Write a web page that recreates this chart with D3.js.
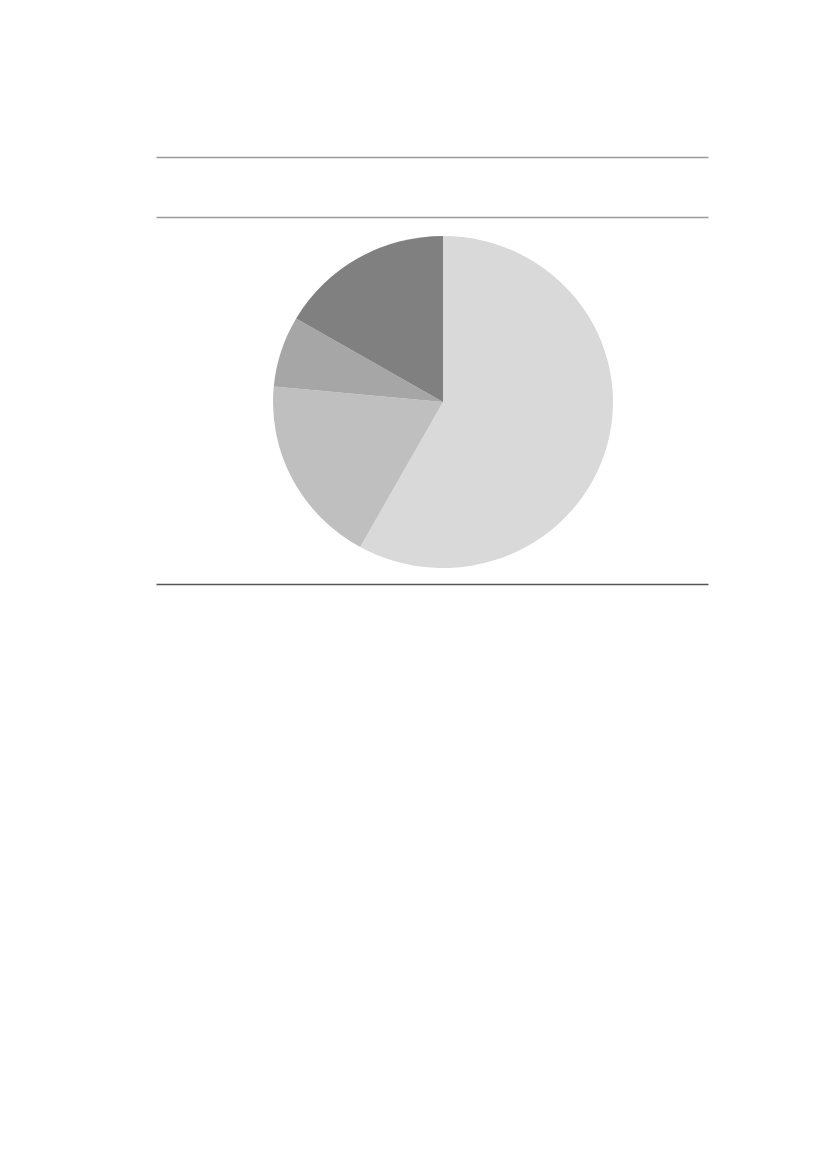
<!DOCTYPE html>
<html>
<head>
<meta charset="utf-8">
<script src="https://cdn.jsdelivr.net/npm/d3@7"></script>
<style>
  html, body { margin: 0; padding: 0; background: #fff; }
</style>
</head>
<body>
<div id="chart"></div>
<script>
// slice values (clockwise from 12 o'clock)
const categories = ['A', 'B', 'C', 'D'];
const values = [58.1, 18.4, 6.9, 16.6];
const colors = ['#d9d9d9', '#bfbfbf', '#a6a6a6', '#808080'];

const width = 827, height = 1170;

const svg = d3.select('#chart')
    .append('svg')
    .attr('width', width)
    .attr('height', height);

// table rules
const rules = [
    {y: 157.5, color: '#9a9a9a'},
    {y: 217.5, color: '#9a9a9a'},
    {y: 584.5, color: '#555555'}
];
svg.selectAll('line.rule')
    .data(rules)
    .enter()
    .append('line')
    .attr('class', 'rule')
    .attr('x1', 156.5)
    .attr('x2', 708.5)
    .attr('y1', d => d.y)
    .attr('y2', d => d.y)
    .style('stroke', d => d.color)
    .style('stroke-width', 1.3);

// pie is drawn slightly wider than tall, like the source
const rx = 170, ry = 166;
const g = svg.append('g')
    .attr('transform', `translate(443, 402) scale(${rx / ry}, 1)`);

const arcGenerator = d3.arc()
    .innerRadius(0)
    .outerRadius(ry);

const pieGenerator = d3.pie()
    .sort(null)
    .value((d, i) => values[i]);

g.selectAll('path')
    .data(pieGenerator(categories))
    .enter()
    .append('path')
    .attr('d', arcGenerator)
    .style('fill', (_, i) => colors[i])
    .style('stroke', 'none');
</script>
</body>
</html>
